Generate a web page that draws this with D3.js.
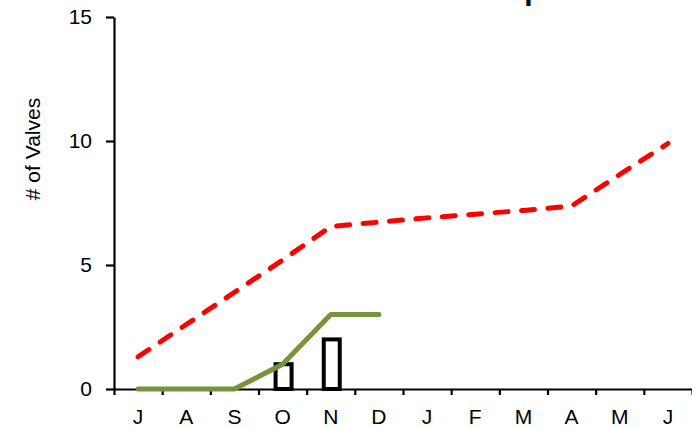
<!DOCTYPE html>
<html>
<head>
<meta charset="utf-8">
<script src="https://cdn.jsdelivr.net/npm/d3@7/dist/d3.min.js"></script>
<style>
  html, body { margin: 0; padding: 0; background: #fff; }
  svg { display: block; }
  text { font-family: Arial, "Liberation Sans", sans-serif; }
</style>
</head>
<body>
<svg id="chart" width="692" height="428"></svg>
<script>
const months = ["J","A","S","O","N","D","J","F","M","A","M","J"];
const targetValues = [1.3, 2.6, 3.9, 5.2, 6.55, 6.73, 6.9, 7.05, 7.2, 7.38, 8.65, 9.9];
const cumulativeValues = [0, 0, 0, 1, 3, 3];
const monthlyValues = [null, null, null, 1, 2];
const yTicks = [0, 5, 10, 15];
const titleText = "# of CS Valves Replaced";
const yLabel = "# of Valves";

(function () {
const svg = d3.select("#chart");
const mLeft = 114, mRight = 692, mTop = 17, mBottom = 389;
const fs = "21px";

const idx = d3.range(months.length);
const x = d3.scaleBand().domain(idx).range([mLeft, mRight]).padding(0);
const xEdge = d3.scaleLinear().domain([0, months.length]).range([mLeft, mRight]);
const y = d3.scaleLinear().domain([0, 15]).range([mBottom, mTop]);
const cx = i => x(i) + x.bandwidth() / 2;

// title (mostly cut off at top, as in the reference)
svg.append("text")
  .attr("x", 446).attr("y", 0)
  .attr("text-anchor", "middle")
  .style("font-size", "30px").style("font-weight", "bold")
  .text(titleText);

// y label
svg.append("text")
  .attr("transform", "translate(40,149) rotate(-90)")
  .attr("text-anchor", "middle")
  .style("font-size", fs)
  .text(yLabel);

// y axis
const yAxis = svg.append("g")
  .attr("transform", `translate(${mLeft},0)`)
  .call(d3.axisLeft(y).tickValues(yTicks).tickSize(8).tickSizeOuter(0).tickPadding(14));
yAxis.attr("font-family", null).attr("font-size", null);
yAxis.selectAll("text").style("font-size", fs).style("fill", "#000");
yAxis.selectAll("line, path").attr("stroke", "#000").attr("stroke-width", 2.2);

// x axis ticks (boundaries)
const xTickAxis = svg.append("g")
  .attr("transform", `translate(0,${mBottom})`)
  .call(d3.axisBottom(xEdge).tickValues(d3.range(months.length + 1)).tickSize(6).tickSizeOuter(0).tickFormat(""));
xTickAxis.selectAll("line, path").attr("stroke", "#000").attr("stroke-width", 2.2);

// x labels
const xLabelAxis = svg.append("g")
  .attr("transform", `translate(0,${mBottom})`)
  .call(d3.axisBottom(x).tickSize(0).tickPadding(20).tickFormat(i => months[i]));
xLabelAxis.attr("font-family", null).attr("font-size", null);
xLabelAxis.select(".domain").remove();
xLabelAxis.selectAll("text").style("font-size", fs).style("fill", "#000");

// bars (hollow)
const barW = 16;
svg.append("g").selectAll("rect")
  .data(monthlyValues.map((v, i) => ({ v, i })).filter(d => d.v != null))
  .join("rect")
  .attr("x", d => cx(d.i) - barW / 2 + 1)
  .attr("width", barW)
  .attr("y", d => y(d.v))
  .attr("height", d => y(0) - y(d.v))
  .attr("fill", "none")
  .attr("stroke", "#000")
  .attr("stroke-width", 4);

// cumulative green line
const line = d3.line().x(d => cx(d.i)).y(d => y(d.v));
svg.append("path")
  .datum(cumulativeValues.map((v, i) => ({ v, i })))
  .attr("d", line)
  .attr("fill", "none")
  .attr("stroke", "#77933C")
  .attr("stroke-width", 5)
  .attr("stroke-linecap", "round")
  .attr("stroke-linejoin", "round");

// target red dashed line
svg.append("path")
  .datum(targetValues.map((v, i) => ({ v, i })))
  .attr("d", line)
  .attr("fill", "none")
  .attr("stroke", "#FF0000")
  .attr("stroke-width", 5)
  .attr("stroke-dasharray", "13,13.5")
  .attr("stroke-linecap", "round")
  .attr("stroke-linejoin", "round");
})();
</script>
</body>
</html>
